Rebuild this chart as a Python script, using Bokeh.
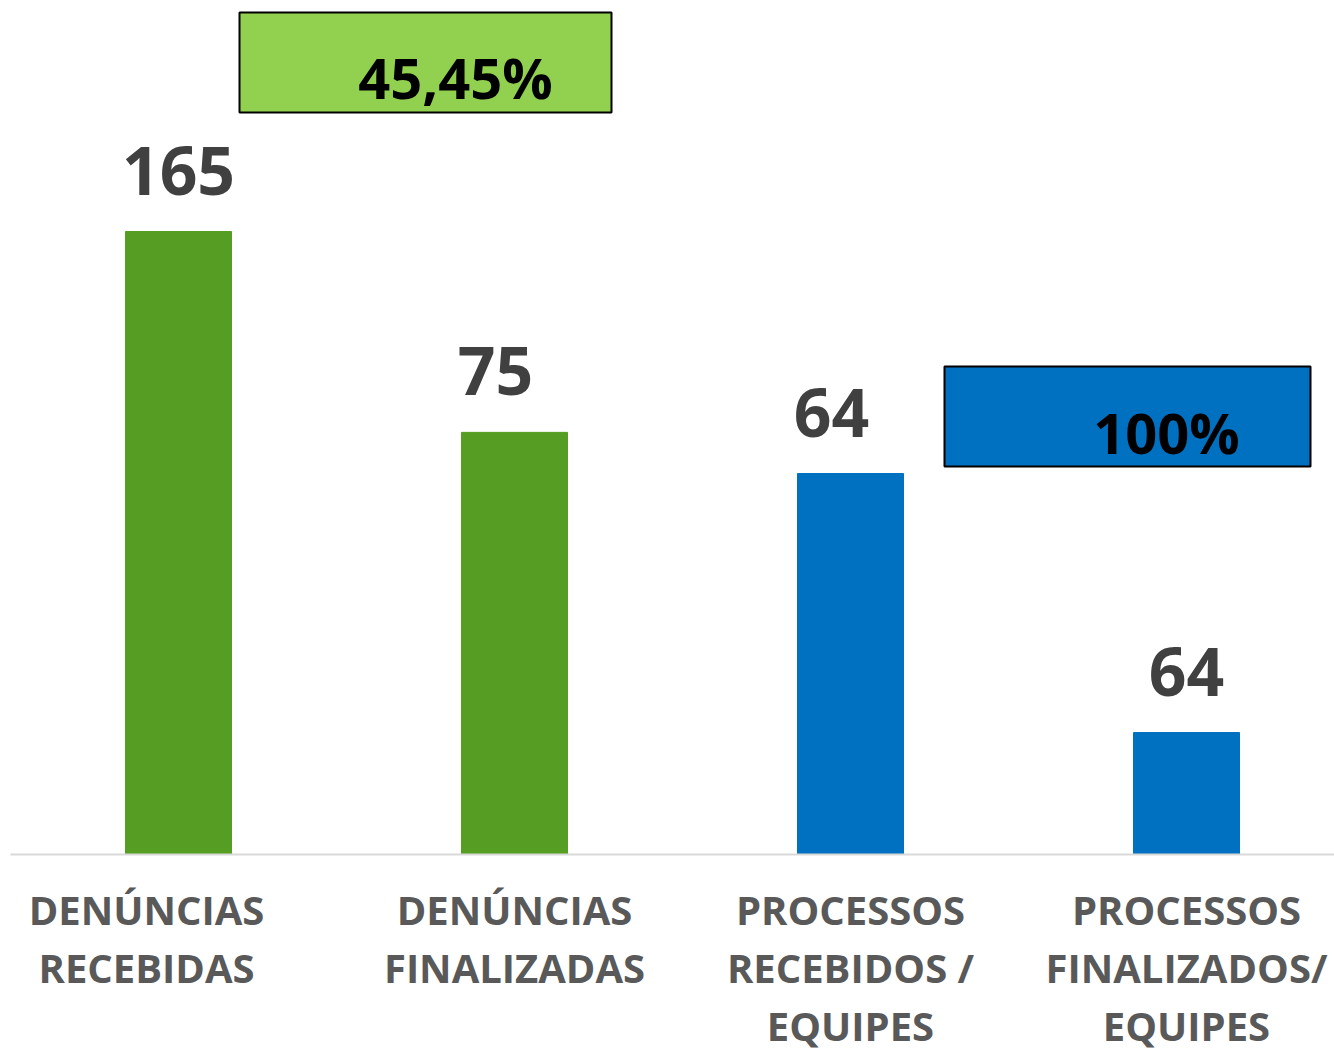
from bokeh.plotting import figure
from bokeh.models import Range1d, ColumnDataSource
from bokeh.core.properties import value
from bokeh.embed import file_html
from bokeh.resources import INLINE

# ---- data ----
categories = ["DENÚNCIAS\nRECEBIDAS", "DENÚNCIAS\nFINALIZADAS",
              "PROCESSOS\nRECEBIDOS /\nEQUIPES", "PROCESSOS\nFINALIZADOS/\nEQUIPES"]
values = [165, 75, 64, 64]                      # printed data labels
bar_heights = [165, 111.8, 100.9, 32.3]         # drawn bar lengths
bar_colors = ["#559E23", "#559E23", "#0070C0", "#0070C0"]
ratio_texts = ["45,45%", "100%"]
ratio_fills = ["#92D050", "#0070C0"]

# ---- layout / style ----
W, H = 1334, 1048
PX = 623 / 165.0            # pixels per unit
CAT_W = 336.0               # pixels per category
x0_px, base_px = 178.0, 854.0

def xd(px):
    return (px - x0_px) / CAT_W

def yd(py):
    return (base_px - py) / PX

p = figure(width=W, height=H, output_backend="svg", toolbar_location=None,
           x_axis_type=None, y_axis_type=None,
           x_range=Range1d(xd(0), xd(W)), y_range=Range1d(yd(H), yd(0)),
           min_border=0, outline_line_color=None)
p.xgrid.visible = False
p.ygrid.visible = False
p.background_fill_color = "white"
p.border_fill_color = "white"

idx = list(range(len(values)))

# bars
src = ColumnDataSource(dict(x=idx, top=bar_heights, color=bar_colors,
                            label=[str(v) for v in values],
                            dx=[0, -19, -19, 0]))
p.vbar(x="x", top="top", bottom=0, width=106 / CAT_W, color="color", source=src)

# baseline
p.segment(x0=[xd(10)], y0=[0], x1=[xd(W)], y1=[0], line_color="#D9D9D9", line_width=2)

# value labels
p.text(x="x", y="top", text="label", source=src, x_offset="dx", y_offset=-61,
       text_align="center", text_baseline="alphabetic",
       text_font=value("Open Sans"), text_font_style="bold",
       text_font_size="66px", text_color="#404040")

# category labels (one glyph row per line)
cx, cy, ct, coff, cdx = [], [], [], [], []
cat_dx = [-32, 0, 0, 0]
for i, c in enumerate(categories):
    for k, line in enumerate(c.split("\n")):
        cx.append(i); cy.append(0); ct.append(line)
        coff.append(55 + 58 * k); cdx.append(cat_dx[i])
p.text(x=cx, y=cy, text=ct, x_offset=cdx, y_offset=coff,
       text_align="center", text_baseline="alphabetic",
       text_font=value("Open Sans"), text_font_style="bold",
       text_font_size="40px", text_color="#595959")

# ratio boxes
box_l = [xd(239), xd(944)]
box_r = [xd(611), xd(1310)]
box_t = [yd(12), yd(366)]
box_b = [yd(112), yd(466)]
p.quad(left=box_l, right=box_r, top=box_t, bottom=box_b,
       fill_color=ratio_fills, line_color="black", line_width=2)
p.text(x=[xd(455), xd(1166)], y=[yd(76), yd(431)], text=ratio_texts,
       text_align="center", text_baseline="alphabetic",
       text_font=value("Open Sans"), text_font_style="bold",
       text_font_size="56px", text_color="black")

open("out.html", "w").write(file_html(p, INLINE))
